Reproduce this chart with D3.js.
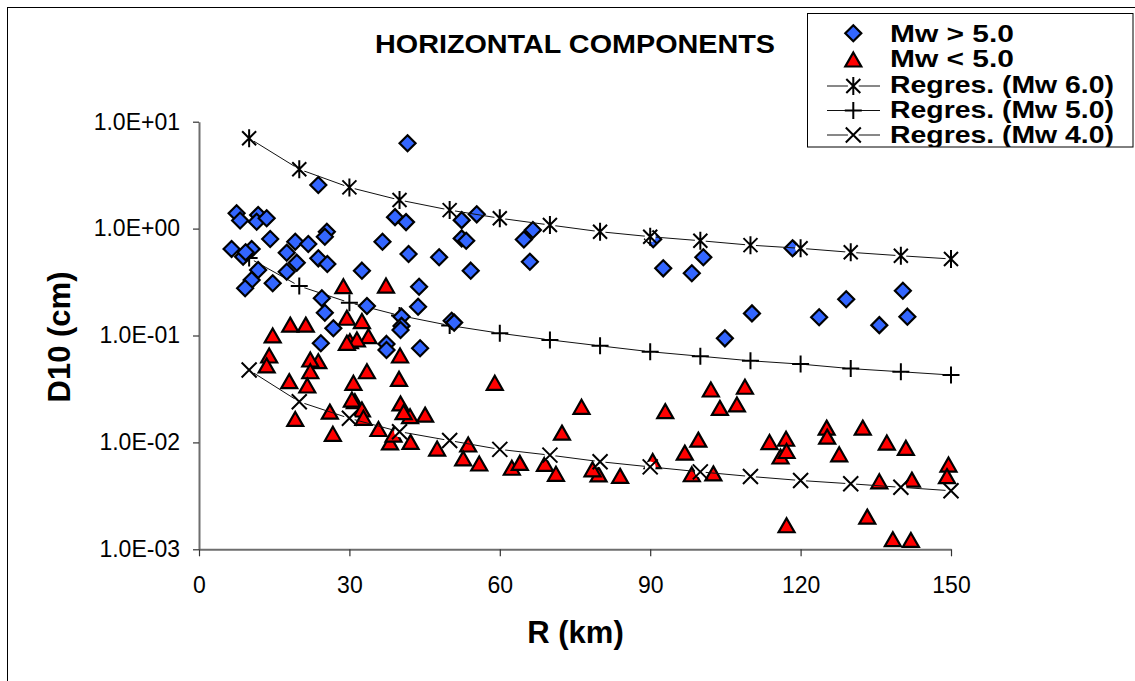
<!DOCTYPE html>
<html>
<head>
<meta charset="utf-8">
<script src="https://cdn.jsdelivr.net/npm/d3@7/dist/d3.min.js"></script>
<style>
  html, body { margin: 0; padding: 0; background: #fff; }
  svg { display: block; font-family: "Liberation Sans", Arial, sans-serif; }
</style>
</head>
<body>
<svg id="chart" width="1135" height="681"></svg>
<script>
// ---------- DATA ----------
const chartTitle = "HORIZONTAL COMPONENTS";
const xTitle = "R (km)";
const yTitle = "D10 (cm)";
const xTickValues = [0, 30, 60, 90, 120, 150];
const yTickValues = [0.001, 0.01, 0.1, 1, 10];
const yTickLabels = ["1.0E-03", "1.0E-02", "1.0E-01", "1.0E+00", "1.0E+01"];
const seriesNames = ["Mw > 5.0", "Mw < 5.0", "Regres. (Mw 6.0)", "Regres. (Mw 5.0)", "Regres. (Mw 4.0)"];

// Mw > 5.0 (diamonds)
const highR = [23.8, 7.5, 8.2, 11.8, 11.5, 13.5, 6.5, 8.8, 10.5, 9.3, 14.2, 19.2, 21.8, 25.5, 25.1, 17.5, 19.5, 23.8, 25.6, 11.8,
  10.5, 9.2, 14.7, 17.5, 32.5, 36.6, 39.1, 41.3, 41.6, 41.8, 47.9, 54.2, 43.9, 52.4, 55.4, 52.4, 53.3, 64.8, 66.6, 66.0,
  24.5, 25.1, 26.8, 24.3, 33.5, 37.4, 37.4, 43.7, 40.4, 40.4, 40.2, 44.1, 50.4, 50.9, 90.6, 92.6, 98.3, 100.6, 110.3, 104.9,
  118.4, 123.7, 129.1, 135.7, 140.4, 141.3];
const highD = [2.56, 1.39, 1.19, 1.34, 1.16, 1.25, 0.645, 0.546, 0.645, 0.60, 0.80, 0.754, 0.718, 0.935, 0.84, 0.595, 0.48, 0.527, 0.467, 0.41,
  0.33, 0.277, 0.308, 0.395, 0.404, 0.754, 1.28, 1.15, 6.28, 0.578, 0.54, 0.404, 0.286, 1.20, 1.36, 0.81, 0.77, 0.79, 0.97, 0.49,
  0.223, 0.163, 0.117, 0.0845, 0.189, 0.0834, 0.0732, 0.186, 0.15, 0.123, 0.1125, 0.076, 0.1375, 0.132, 0.794, 0.425, 0.382, 0.54, 0.161, 0.094,
  0.654, 0.148, 0.218, 0.125, 0.262, 0.15];

// Mw < 5.0 (triangles)
const lowR = [28.8, 37.3, 18.2, 21.3, 14.7, 14.0, 13.5, 29.5, 32.5, 33.8, 30.1, 31.5, 29.5, 23.8, 22.2, 22.2, 18.0, 21.6, 33.5, 30.8,
  31.1, 30.5, 32.5, 32.8, 26.1, 19.2, 26.7, 35.8, 38.1, 40.1, 39.9, 40.2, 42.1, 45.1, 40.8, 38.8, 42.2, 59.0, 47.5, 53.7,
  52.7, 55.9, 62.4, 64.0, 69.0, 71.2, 72.4, 76.3, 93.0, 102.1, 103.9, 107.3, 108.9, 99.6, 96.9, 90.5, 79.7, 78.5, 84.0, 98.3,
  102.6, 113.8, 117.1, 116.0, 117.2, 125.2, 125.3, 127.7, 132.4, 137.2, 141.0, 135.7, 142.2, 149.5, 149.2, 117.2, 133.3, 138.4, 142.0];
const lowD = [0.286, 0.29, 0.125, 0.125, 0.099, 0.0643, 0.0519, 0.145, 0.135, 0.0975, 0.0875, 0.0908, 0.0845, 0.0569, 0.059, 0.0458, 0.037, 0.0337, 0.0458, 0.0357,
  0.024, 0.0249, 0.0201, 0.0168, 0.0192, 0.0164, 0.0119, 0.0132, 0.0099, 0.0643, 0.0389, 0.0229, 0.0174, 0.018, 0.019, 0.0117, 0.010, 0.0357, 0.00867, 0.00946,
  0.007, 0.00628, 0.00573, 0.00637, 0.00624, 0.00503, 0.0122, 0.0213, 0.0194, 0.0309, 0.0208, 0.0224, 0.0328, 0.0105, 0.00793, 0.00662, 0.00497, 0.00554, 0.00481, 0.00498,
  0.00508, 0.00997, 0.0107, 0.0073, 0.00822, 0.0136, 0.0112, 0.00766, 0.0136, 0.00986, 0.0088, 0.00428, 0.00444, 0.00614, 0.00478, 0.00166, 0.002, 0.00123, 0.00121];

// Regression curves
const regR = [10, 20, 30, 40, 50, 60, 70, 80, 90, 100, 110, 120, 130, 140, 150];
const reg6 = [7.0, 3.59, 2.43, 1.85, 1.49, 1.25, 1.08, 0.935, 0.84, 0.77, 0.70, 0.654, 0.60, 0.557, 0.52];
const reg5 = [0.53, 0.29, 0.203, 0.154, 0.124, 0.105, 0.091, 0.080, 0.0705, 0.064, 0.058, 0.054, 0.049, 0.0458, 0.0427];
const reg4 = [0.0475, 0.024, 0.0168, 0.0126, 0.0104, 0.0086, 0.0076, 0.0066, 0.0059, 0.0053, 0.0048, 0.0044, 0.0041, 0.0038, 0.00353];

// ---------- CHART ----------
const svg = d3.select("#chart");
const FONT = '"Liberation Sans", Arial, sans-serif';

// outer frame
svg.append("rect").attr("x", 7.5).attr("y", 7.5).attr("width", 1140).attr("height", 690)
  .attr("fill", "#fff").attr("stroke", "#000").attr("stroke-width", 1);

const x = d3.scaleLinear().domain([0, 150]).range([199, 951]);
const y = d3.scaleLog().domain([0.001, 10]).range([549.3, 121.7]);

// marker shapes
const shapes = {
  diamond: "M0,-8L8,0L0,8L-8,0Z",
  triangle: "M0,-7.5L8,6.5L-8,6.5Z",
  asterisk: "M-7,-7L7,7M-7,7L7,-7M0,-9V9",
  plus: "M-8.5,0H8.5M0,-8.5V8.5",
  cross: "M-7.5,-7.5L7.5,7.5M-7.5,7.5L7.5,-7.5"
};

// axes
const yAxis = d3.axisLeft(y).tickValues(yTickValues)
  .tickFormat((d, i) => yTickLabels[i]).tickSize(6).tickSizeOuter(0).tickPadding(13);
const gy = svg.append("g").attr("transform", "translate(199,0)").call(yAxis);
const xAxis = d3.axisBottom(x).tickValues(xTickValues).tickFormat(d => String(d))
  .tickSize(7).tickSizeOuter(0).tickPadding(20);
const gx = svg.append("g").attr("transform", "translate(0,549.3)").call(xAxis);
[gx, gy].forEach(g => {
  g.select(".domain").attr("stroke", "#6e6e6e").attr("stroke-width", 2);
  g.selectAll(".tick line").attr("stroke", "#333").attr("stroke-width", 1.2);
  g.selectAll(".tick text").attr("fill", "#000").style("font-family", FONT).style("font-size", "23px");
});

// regression series
function drawRegression(vals, shape, g) {
  const pts = regR.map((r, i) => [x(r), y(vals[i])]);
  g.append("path").attr("d", d3.line()(pts)).attr("fill", "none").attr("stroke", "#111").attr("stroke-width", 1);
  const m = g.selectAll(null).data(pts).enter().append("g")
    .attr("transform", d => `translate(${d[0]},${d[1]})`);
  m.append("circle").attr("r", 5.5).attr("fill", "#fff");
  m.append("path").attr("d", shapes[shape]).attr("fill", "none").attr("stroke", "#000").attr("stroke-width", 2);
}

const gReg5 = svg.append("g");
drawRegression(reg5, "plus", gReg5);

// data markers
function drawPoints(R, D, shape, fill) {
  svg.append("g").selectAll("path").data(R.map((r, i) => [r, D[i]])).enter().append("path")
    .attr("d", shapes[shape])
    .attr("transform", d => `translate(${x(d[0])},${y(d[1])})`)
    .attr("fill", fill).attr("stroke", "#000").attr("stroke-width", 2.2).attr("stroke-linejoin", "miter");
}
drawPoints(highR, highD, "diamond", "#3366ff");
drawPoints(lowR, lowD, "triangle", "#ff0000");

drawRegression(reg6, "asterisk", svg.append("g"));
drawRegression(reg4, "cross", svg.append("g"));

// titles
svg.append("text").attr("x", 575).attr("y", 53).attr("text-anchor", "middle")
  .attr("textLength", 400).attr("lengthAdjust", "spacingAndGlyphs")
  .style("font-family", FONT).style("font-size", "26px").style("font-weight", "bold").text(chartTitle);
svg.append("text").attr("x", 575.5).attr("y", 643).attr("text-anchor", "middle")
  .style("font-family", FONT).style("font-size", "31px").style("font-weight", "bold").text(xTitle);
svg.append("text").attr("transform", "translate(70,337) rotate(-90)").attr("text-anchor", "middle")
  .style("font-family", FONT).style("font-size", "31px").style("font-weight", "bold").text(yTitle);

// legend
const lg = svg.append("g");
lg.append("clipPath").attr("id", "lgclip").append("rect").attr("x", 807).attr("y", 13).attr("width", 326).attr("height", 134);
lg.append("rect").attr("x", 807.5).attr("y", 13.5).attr("width", 325.5).attr("height", 133.5)
  .attr("fill", "#fff").attr("stroke", "#000").attr("stroke-width", 1);
const lgY = [33.3, 60, 86, 110.5, 135];
const lgBase = [41.7, 66.7, 93.3, 118.3, 143.3];
const lgLen = [124, 124, 224, 224, 224];
const lgShape = ["diamond", "triangle", "asterisk", "plus", "cross"];
const lgc = lg.append("g").attr("clip-path", "url(#lgclip)");
seriesNames.forEach((name, i) => {
  const cy = lgY[i];
  if (i >= 2) {
    lgc.append("line").attr("x1", 827).attr("x2", 880).attr("y1", cy).attr("y2", cy)
      .attr("stroke", "#111").attr("stroke-width", 1);
    lgc.append("circle").attr("cx", 853.3).attr("cy", cy).attr("r", 5.5).attr("fill", "#fff");
    lgc.append("path").attr("d", shapes[lgShape[i]]).attr("transform", `translate(853.3,${cy})`)
      .attr("fill", "none").attr("stroke", "#000").attr("stroke-width", 2);
  } else {
    lgc.append("path").attr("d", shapes[lgShape[i]]).attr("transform", `translate(853.3,${cy})`)
      .attr("fill", i === 0 ? "#3366ff" : "#ff0000").attr("stroke", "#000").attr("stroke-width", 2.2);
  }
  lgc.append("text").attr("x", 890).attr("y", lgBase[i])
    .attr("textLength", lgLen[i]).attr("lengthAdjust", "spacingAndGlyphs")
    .style("font-family", FONT).style("font-size", "24px").style("font-weight", "bold").text(name);
});
</script>
</body>
</html>
